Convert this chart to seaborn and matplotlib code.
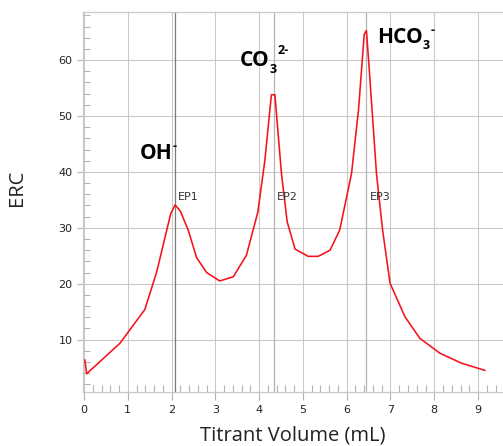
import matplotlib
matplotlib.use("Agg")
import matplotlib.pyplot as plt
from matplotlib.ticker import MultipleLocator
import numpy as np
import pandas as pd
import seaborn as sns

# Conductometric titration curve: ERC against titrant volume
volume_ml = [0.02, 0.06, 0.82, 1.39, 1.66, 1.89, 1.98, 2.08, 2.20, 2.38, 2.57,
             2.80, 3.10, 3.41, 3.71, 3.97, 4.13, 4.28, 4.36, 4.51, 4.64, 4.82,
             5.12, 5.35, 5.62, 5.84, 6.11, 6.27, 6.40, 6.45, 6.51, 6.68, 6.82,
             6.99, 7.33, 7.67, 8.13, 8.62, 9.16]
erc = [6.4, 3.9, 9.35, 15.4, 22.1, 29.6, 32.5, 34.1, 33.0, 29.6, 24.7,
       22.0, 20.5, 21.25, 25.1, 32.8, 42.0, 53.8, 53.8, 39.7, 31.1, 26.2,
       24.9, 24.9, 26.0, 29.6, 39.7, 51.1, 64.6, 65.3, 58.9, 39.7, 29.6,
       20.1, 14.1, 10.25, 7.57, 5.8, 4.5]

# Equivalence points
ep_labels = ["EP1", "EP2", "EP3"]
ep_volume = [2.08, 4.34, 6.45]

x_ticks = [0, 1, 2, 3, 4, 5, 6, 7, 8, 9]
y_ticks = [10, 20, 30, 40, 50, 60]

df = pd.DataFrame({"Titrant Volume (mL)": volume_ml, "ERC": erc})

sns.set_theme(style="white")
plt.rcParams["font.family"] = ["DejaVu Sans"]

fig = plt.figure(figsize=(5.03, 4.46), dpi=100)
ax = fig.add_axes([83 / 503, 54 / 446, 420 / 503, 380 / 446])

grid_c = "#c9c9c9"
tick_c = "#b3b3b3"
ax.set_xlim(-0.023, 9.57)
ax.set_ylim(0.64, 68.6)
ax.set_xticks(x_ticks)
ax.set_yticks(y_ticks)
ax.xaxis.set_minor_locator(MultipleLocator(0.2))
ax.yaxis.set_minor_locator(MultipleLocator(2))
ax.grid(True, which="major", color=grid_c, lw=0.8)
ax.set_axisbelow(True)

for ev in ep_volume:
    ax.axvline(ev, color="#7a7a7a" if ev == ep_volume[0] else "#b5b5b5",
               lw=0.9, zorder=1)

sns.lineplot(data=df, x="Titrant Volume (mL)", y="ERC", sort=False,
             estimator=None, color="#f4121c", lw=1.15, ax=ax, zorder=3)

for side in ["left", "top", "bottom"]:
    ax.spines[side].set_color(grid_c)
    ax.spines[side].set_linewidth(0.9)
ax.spines["right"].set_visible(False)

ax.tick_params(axis="x", which="major", direction="out", length=5.5, width=0.8,
               color=tick_c, pad=4, labelsize=8, labelcolor="#222222",
               bottom=True)
ax.tick_params(axis="y", which="major", direction="out", length=4.5, width=0.8,
               color=tick_c, pad=3, labelsize=8, labelcolor="#222222",
               left=True)
ax.tick_params(axis="x", which="minor", direction="in", length=5, width=0.8,
               color=tick_c, bottom=True)
ax.tick_params(axis="y", which="minor", direction="in", length=5, width=0.8,
               color=tick_c, left=True)

label_font = ["Open Sans", "DejaVu Sans"]
ax.set_xlabel("Titrant Volume (mL)", family=label_font, fontsize=14.5,
              color="#222222", va="baseline")
ax.xaxis.set_label_coords(293 / 503, 1 - 441 / 446, transform=fig.transFigure)
ax.set_ylabel("ERC", family=label_font, fontsize=14.5, color="#222222",
              va="center")
ax.yaxis.set_label_coords(17.5 / 503, 1 - 187.5 / 446, transform=fig.transFigure)

for lab, ev in zip(ep_labels, ep_volume):
    ax.text(ev + 0.07, 35.6, lab, fontsize=8, color="#333333", va="center",
            ha="left")


def species(x, y, main, sub=None, sup=None, sub_dy=-4.6, sup_dy=8.5):
    kw = dict(family=label_font, fontweight="bold", color="black")
    t = ax.text(x, y, main, fontsize=15, va="baseline", ha="left", **kw)
    anchor = t
    if sub:
        anchor = ax.annotate(sub, xy=(1, y), xycoords=(t, "data"),
                             xytext=(0.3, sub_dy), textcoords="offset points",
                             fontsize=9, va="baseline", ha="left", **kw)
    if sup:
        ax.annotate(sup, xy=(1, y), xycoords=(anchor, "data"),
                    xytext=(0.2, sup_dy), textcoords="offset points",
                    fontsize=9, va="baseline", ha="left", **kw)


species(1.28, 42.3, "OH", sup="-", sup_dy=6.5)
species(3.56, 58.9, "CO", sub="3", sup="2-", sup_dy=8.5)
species(6.685, 63.05, "HCO", sub="3", sup="-", sup_dy=6.5)

fig.savefig("out.png", dpi=100)
